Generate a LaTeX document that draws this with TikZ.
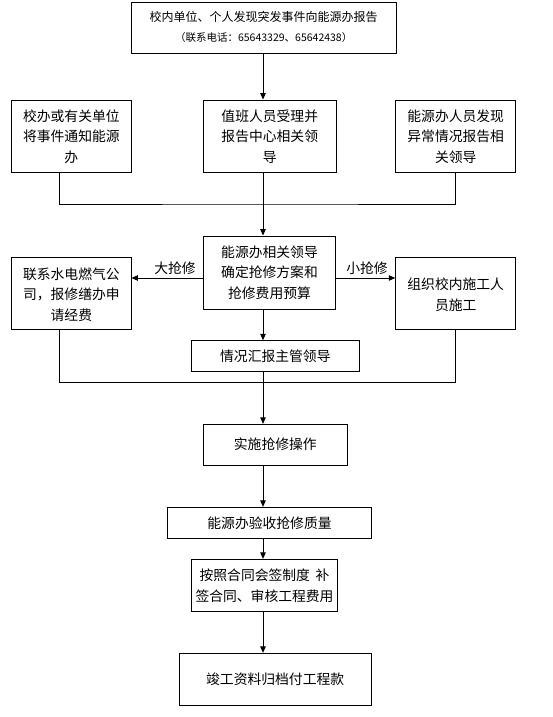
\documentclass[tikz,border=0pt]{standalone}
\usepackage{fontspec}
\setmainfont{Noto Sans CJK SC}
\usetikzlibrary{arrows.meta,fit}
\begin{document}
\begin{tikzpicture}[x=1pt,y=-1pt,
  box/.style={draw, line width=0.9pt, inner sep=0pt, align=center,
    font=\fontsize{13.8}{20.5}\selectfont},
  lbl/.style={inner sep=0pt, font=\fontsize{13.8}{16}\selectfont},
  link/.style={line width=0.9pt},
  arr/.style={line width=0.9pt, -{Triangle[length=6.5pt,width=5.5pt]}}]
\useasboundingbox (0,0) rectangle (553,717);
% coordinates for connector columns and buses
\coordinate (ax) at (263,0);
\coordinate (l1) at (59.3,0);
\coordinate (r1) at (455.7,0);
\coordinate (bus1) at (263,204);
\coordinate (bus2) at (263,382.3);
\coordinate (hy) at (0,278);
% boxes
\coordinate (topa) at (131.5,2); \coordinate (topb) at (396,53);
\node[box, fit=(topa)(topb)] (top) {};
\node[align=center, inner sep=0pt, font=\fontsize{12}{20.5}\selectfont] (toptext) at (263.7,27)
  {校内单位、个人发现突发事件向能源办报告\\
   {\fontsize{10.5}{20.5}\selectfont（联系电话：65643329、65642438）}};
\coordinate (b1a) at (11.7,100); \coordinate (b1b) at (131,172.7);
\node[box, fit=(b1a)(b1b)] (b1) {};
\node[box, draw=none] (b1t) at (b1) {校办或有关单位\\将事件通知能源\\办};
\coordinate (b2a) at (203.5,100); \coordinate (b2b) at (336,172.7);
\node[box, fit=(b2a)(b2b)] (b2) {};
\node[box, draw=none] (b2t) at (b2) {值班人员受理并\\报告中心相关领\\导};
\coordinate (b3a) at (395.7,100); \coordinate (b3b) at (515.7,172.7);
\node[box, fit=(b3a)(b3b)] (b3) {};
\node[box, draw=none] (b3t) at (b3) {能源办人员发现\\异常情况报告相\\关领导};
\coordinate (c1a) at (11.7,257.3); \coordinate (c1b) at (131,329);
\node[box, fit=(c1a)(c1b)] (c1) {};
\node[box, draw=none] (c1t) at ([yshift=-1.5]c1) {联系水电燃气公\\司，报修缮办申\\请经费};
\coordinate (c2a) at (203.3,236); \coordinate (c2b) at (335.7,309);
\node[box, fit=(c2a)(c2b)] (c2) {};
\node[box, draw=none] (c2t) at (c2) {能源办相关领导\\确定抢修方案和\\抢修费用预算};
\coordinate (c3a) at (395.7,257.3); \coordinate (c3b) at (515.7,329);
\node[box, fit=(c3a)(c3b)] (c3) {};
\node[box, draw=none] (c3t) at ([yshift=-1.5]c3) {组织校内施工人\\员施工};
\coordinate (da) at (191.7,340.7); \coordinate (db) at (359,371.7);
\node[box, fit=(da)(db)] (d) {};
\node[box, draw=none] (dt) at (d) {情况汇报主管领导};
\coordinate (ea) at (203.3,424.3); \coordinate (eb) at (347.3,465);
\node[box, fit=(ea)(eb)] (e) {};
\node[box, draw=none] (et) at (e) {实施抢修操作};
\coordinate (fa) at (167.3,507.3); \coordinate (fb) at (371.7,538.3);
\node[box, fit=(fa)(fb)] (f) {};
\node[box, draw=none] (ft) at (f) {能源办验收抢修质量};
\coordinate (ga) at (191.3,559.3); \coordinate (gb) at (337.7,611.7);
\node[box, fit=(ga)(gb)] (g) {};
\node[box, draw=none] (gt) at (g) {按照合同会签制度\hspace{0.4em}补\\签合同、审核工程费用};
\coordinate (ha) at (179.3,653.3); \coordinate (hb) at (371,705.7);
\node[box, fit=(ha)(hb)] (h) {};
\node[box, draw=none] (ht) at (h) {竣工资料归档付工程款};
% labels
\node[lbl] (lbig) at (175,268) {大抢修};
\node[lbl] (lsmall) at (367,268) {小抢修};
% connectors
\draw[arr] (top.south -| ax) -- (b2.north -| ax);
\draw[link] (b1.south -| l1) |- (bus1) -| (b3.south -| r1);
\draw[arr] (b2.south -| ax) -- (c2.north -| ax);
\draw[arr] (c2.west |- hy) -- (c1.east |- hy);
\draw[arr] (c2.east |- hy) -- (c3.west |- hy);
\draw[arr] (c2.south -| ax) -- (d.north -| ax);
\draw[link] (c1.south -| l1) |- (bus2) -| (c3.south -| r1);
\draw[arr] (d.south -| ax) -- (e.north -| ax);
\draw[arr] (e.south -| ax) -- (f.north -| ax);
\draw[arr] (f.south -| ax) -- (g.north -| ax);
\draw[arr] (g.south -| ax) -- (h.north -| ax);
\end{tikzpicture}
\end{document}
